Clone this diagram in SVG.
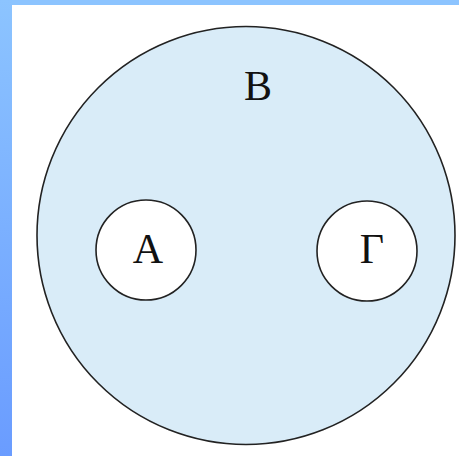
<svg xmlns="http://www.w3.org/2000/svg" width="459" height="456" viewBox="0 0 459 456">
<defs>
<linearGradient id="side" x1="0" y1="0" x2="0" y2="1">
<stop offset="0" stop-color="#8cc4ff"/>
<stop offset="1" stop-color="#6a9cff"/>
</linearGradient>
<style>
.c{stroke:#222;stroke-width:1.6}
.t{font-family:"Liberation Serif","Times New Roman",serif;font-size:42px;fill:#111;text-anchor:middle}
</style>
</defs>
<rect width="459" height="456" fill="#fff"/>
<rect x="0" y="0" width="459" height="5" fill="#8cc4ff"/>
<rect x="0" y="0" width="12" height="456" fill="url(#side)"/>
<g id="B">
<circle class="c" cx="246" cy="235.5" r="209" fill="#d9ecf8"/>
<text class="t" x="258" y="100">B</text>
</g>
<g id="A">
<circle class="c" cx="146" cy="250" r="50" fill="#fff"/>
<text class="t" x="148" y="263">A</text>
</g>
<g id="G">
<circle class="c" cx="367" cy="251" r="50" fill="#fff"/>
<text class="t" x="372" y="263">Γ</text>
</g>
<g id="connectors"/>
</svg>
